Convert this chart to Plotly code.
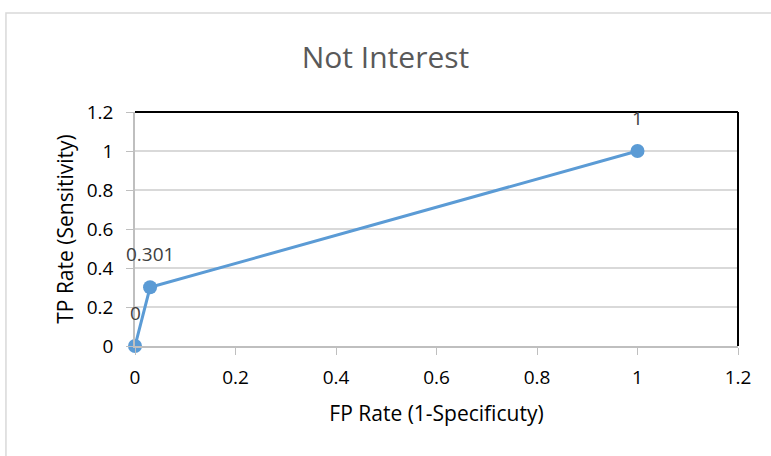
import plotly.graph_objects as go

fp_rate = [0, 0.03, 1]
tp_rate = [0, 0.301, 1]
labels = ["0", "0.301", "1"]
tick_vals = [0, 0.2, 0.4, 0.6, 0.8, 1, 1.2]
tick_text = ["0", "0.2", "0.4", "0.6", "0.8", "1", "1.2"]

FONT = "'Open Sans', sans-serif"

fig = go.Figure()
fig.add_trace(go.Scatter(
    x=fp_rate, y=tp_rate, mode="lines+markers",
    line=dict(color="#5b9bd5", width=3),
    marker=dict(color="#5b9bd5", size=14),
    cliponaxis=False, showlegend=False, hoverinfo="skip",
))

for xv, yv, lab in zip(fp_rate, tp_rate, labels):
    fig.add_annotation(x=xv, y=yv, text=lab, showarrow=False, yshift=33,
                       font=dict(size=19, color="#404040", family=FONT))

fig.update_layout(
    width=771, height=456,
    paper_bgcolor="white", plot_bgcolor="white",
    margin=dict(l=135, r=33, t=112, b=110),
    title=dict(text="Not Interest", x=0.5, xanchor="center", y=1 - 57 / 456, yanchor="middle",
               font=dict(size=30, color="#595959", family=FONT)),
    font=dict(family=FONT, color="black", size=19),
    xaxis=dict(range=[0, 1.2], tickvals=tick_vals, ticktext=tick_text,
               showgrid=False, zeroline=False, showline=True, linecolor="#bfbfbf", linewidth=1.5,
               ticks="outside", ticklen=7, tickcolor="#bfbfbf", ticklabelstandoff=6,
               tickfont=dict(size=19, color="black"),
               title=dict(text="FP Rate (1-Specificuty)", font=dict(size=21, color="black"), standoff=18)),
    yaxis=dict(range=[0, 1.2], tickvals=tick_vals, ticktext=tick_text,
               showgrid=True, gridcolor="#d9d9d9", gridwidth=1.5, zeroline=False,
               showline=True, linecolor="#bfbfbf", linewidth=1.5,
               ticks="outside", ticklen=7, tickcolor="#bfbfbf", ticklabelstandoff=9,
               tickfont=dict(size=19, color="black"),
               title=dict(text="TP Rate (Sensitivity)", font=dict(size=21, color="black"), standoff=7)),
)

# plot-area black border (top and right)
fig.add_shape(type="line", xref="paper", yref="paper", x0=0, x1=1, y0=1, y1=1,
              line=dict(color="black", width=2))
fig.add_shape(type="line", xref="paper", yref="paper", x0=1, x1=1, y0=0, y1=1,
              line=dict(color="black", width=2))
# outer chart border
fig.add_shape(type="rect", xref="paper", yref="paper", x0=-0.214, x1=1.2, y0=-0.7, y1=1.423,
              line=dict(color="#d9d9d9", width=1.5), layer="below")

fig.write_html("out.html", config={"displayModeBar": False},
               post_script="document.body.style.margin='0';")
